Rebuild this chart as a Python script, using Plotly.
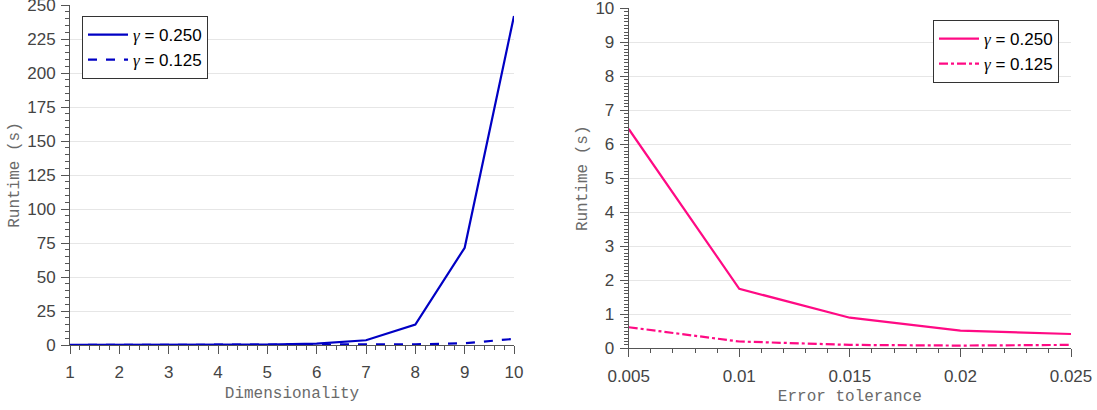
import plotly.graph_objects as go

# Left panel data
dims = [1, 2, 3, 4, 5, 6, 7, 8, 9, 10]
rt_dim_g250 = [0.1, 0.1, 0.1, 0.15, 0.3, 1.0, 3.5, 15.0, 71.5, 242.0]
rt_dim_g125 = [0.0, 0.0, 0.0, 0.0, 0.05, 0.1, 0.2, 0.5, 1.3, 4.5]

# Right panel data
tols = [0.005, 0.01, 0.015, 0.02, 0.025]
rt_tol_g250 = [6.45, 1.75, 0.9, 0.52, 0.42]
rt_tol_g125 = [0.62, 0.2, 0.1, 0.08, 0.1]

gamma = '<span style="font-family:Liberation Serif"><i>γ</i></span>'
legend_labels = [gamma + " = 0.250", gamma + " = 0.125"]

blue = "#0000C4"
pink = "#FF0A84"

fig = go.Figure()
fig.add_trace(go.Scatter(x=dims, y=rt_dim_g250, mode="lines", name=legend_labels[0],
                         line=dict(color=blue, width=2.2), xaxis="x", yaxis="y", legend="legend"))
fig.add_trace(go.Scatter(x=dims, y=rt_dim_g125, mode="lines", name=legend_labels[1],
                         line=dict(color=blue, width=2.2, dash="dash"), xaxis="x", yaxis="y", legend="legend"))
fig.add_trace(go.Scatter(x=tols, y=rt_tol_g250, mode="lines", name=legend_labels[0],
                         line=dict(color=pink, width=2.2), xaxis="x2", yaxis="y2", legend="legend2"))
fig.add_trace(go.Scatter(x=tols, y=rt_tol_g125, mode="lines", name=legend_labels[1],
                         line=dict(color=pink, width=2.2, dash="dashdot"), xaxis="x2", yaxis="y2", legend="legend2"))

tickfont = dict(family="Liberation Sans, Arial, sans-serif", size=17, color="#444444")
titlefont = dict(family="Liberation Mono, Courier New, monospace", size=16, color="#6a6a6a")
axcommon = dict(showline=True, linecolor="#555555", linewidth=1, ticks="outside",
                tickcolor="#555555", ticklen=8, tickfont=tickfont, zeroline=False, mirror=False,
                automargin=False, ticklabeloverflow="allow")

fig.update_layout(
    width=1097, height=410,
    margin=dict(l=0, r=0, t=0, b=0, autoexpand=False),
    paper_bgcolor="white", plot_bgcolor="white",
    xaxis=dict(domain=[70 / 1097, 514 / 1097], anchor="y", range=[1, 10], dtick=1, tick0=1,
               showgrid=False, ticklabelstandoff=4,
               title=dict(text="Dimensionality", font=titlefont, standoff=5),
               minor=dict(dtick=0.2, ticks="outside", ticklen=4, tickcolor="#555555"),
               **axcommon),
    yaxis=dict(domain=[(410 - 345) / 410, (410 - 5) / 410], anchor="x", range=[0, 250.001], dtick=25, tick0=0,
               showgrid=True, gridcolor="#e6e6e6", gridwidth=1, ticklabelstandoff=2,
               title=dict(text="Runtime (s)", font=titlefont, standoff=3),
               minor=dict(dtick=5, ticks="outside", ticklen=4, tickcolor="#555555", showgrid=False),
               **axcommon),
    xaxis2=dict(domain=[628.7 / 1097, 1071 / 1097], anchor="y2", range=[0.005, 0.025], dtick=0.005, tick0=0.005,
                showgrid=False, ticklabelstandoff=4,
                title=dict(text="Error tolerance", font=titlefont, standoff=5),
                minor=dict(dtick=0.001, ticks="outside", ticklen=4, tickcolor="#555555"),
                **axcommon),
    yaxis2=dict(domain=[(410 - 348.3) / 410, (410 - 8.3) / 410], anchor="x2", range=[0, 10.00001], dtick=1, tick0=0,
                showgrid=True, gridcolor="#e6e6e6", gridwidth=1, ticklabelstandoff=2,
                title=dict(text="Runtime (s)", font=titlefont, standoff=3),
                minor=dict(dtick=0.1, ticks="outside", ticklen=4, tickcolor="#555555", showgrid=False),
                **axcommon),
    legend=dict(x=82 / 1097, y=1 - 16 / 410, xanchor="left", yanchor="top", bgcolor="white",
                bordercolor="#333333", borderwidth=1,
                font=dict(family="Liberation Sans, Arial, sans-serif", size=17, color="black"),
                tracegroupgap=0, itemwidth=40),
    legend2=dict(x=1059 / 1097, y=1 - 20 / 410, xanchor="right", yanchor="top", bgcolor="white",
                 bordercolor="#333333", borderwidth=1,
                 font=dict(family="Liberation Sans, Arial, sans-serif", size=17, color="black"),
                 tracegroupgap=0, itemwidth=40),
    showlegend=True,
)

fig.write_html("out.html", config={"displayModeBar": False},
               post_script="document.body.style.margin='0';")
